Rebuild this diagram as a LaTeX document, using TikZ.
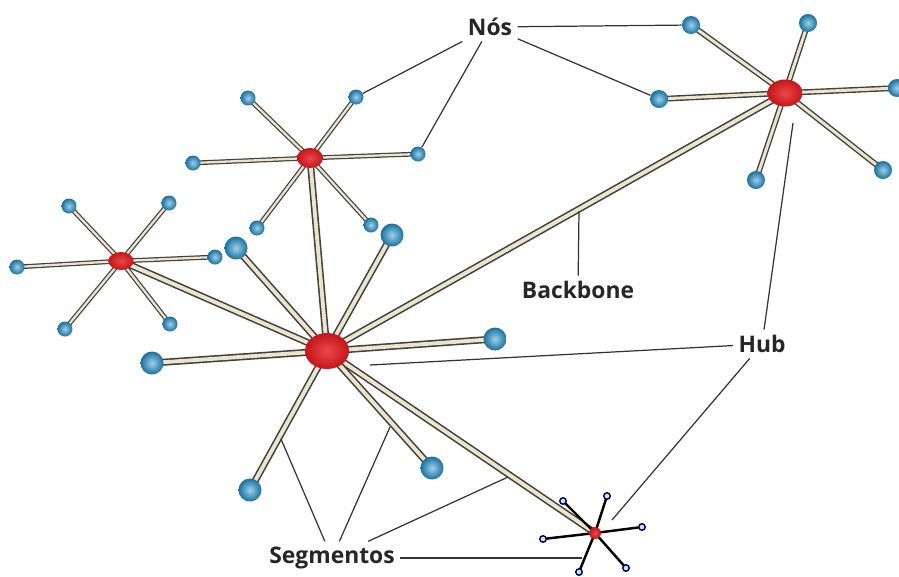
\documentclass[tikz,border=0pt]{standalone}
\usepackage{fontspec}
\setmainfont{Open Sans}
\usepackage{tikz}
\usetikzlibrary{shapes.geometric,backgrounds}

\definecolor{nodeblue}{RGB}{35,150,210}
\definecolor{hubred}{RGB}{230,25,30}
\definecolor{tubefill}{RGB}{236,229,203}

\tikzset{
  hub/.style={ellipse, shading=radial, inner color=hubred!80!white, outer color=hubred!85!black, inner sep=0pt},
  nodo/.style={circle, shading=radial, inner color=nodeblue!45!white, outer color=nodeblue!75!black, inner sep=0pt, minimum size=#1},
  tip/.style={circle, draw=black!70!blue, fill=cyan!25, line width=0.8pt, inner sep=0pt, minimum size=0.13cm},
  tube/.style={draw=black!75, line width=0.9pt, double=tubefill, double distance=2.2pt},
  midtube/.style={draw=black!75, line width=0.8pt, double=tubefill, double distance=1.7pt},
  thintube/.style={draw=black!75, line width=0.7pt, double=tubefill, double distance=1.3pt},
  wire/.style={draw=black, line width=1.4pt},
  leader/.style={draw=black!80, line width=0.7pt},
  lbl/.style={font=\bfseries\fontsize{13}{15}\selectfont, text=black!85, inner sep=3pt}
}

\begin{document}
\begin{tikzpicture}[x=0.02cm, y=-0.02cm]
    \useasboundingbox (0,0) rectangle (899,576);

    % hubs
    \node [hub, minimum width=0.88cm, minimum height=0.72cm] (h0) at (327,351) {};
    \node [hub, minimum width=0.5cm, minimum height=0.36cm] (h1) at (121,261) {};
    \node [hub, minimum width=0.52cm, minimum height=0.4cm] (h2) at (310,158) {};
    \node [hub, minimum width=0.7cm, minimum height=0.54cm] (h3) at (785,93) {};
    \node [hub, minimum width=0.24cm, minimum height=0.24cm] (h4) at (595,533) {};

    % nodes round the big hub
    \node [nodo=0.46cm] (a1) at (236,248) {};
    \node [nodo=0.46cm] (a2) at (392,235) {};
    \node [nodo=0.46cm] (a3) at (152,363) {};
    \node [nodo=0.46cm] (a4) at (495,339) {};
    \node [nodo=0.46cm] (a5) at (250,490) {};
    \node [nodo=0.46cm] (a6) at (432,468) {};

    % left hub
    \node [nodo=0.3cm] (b1) at (69,206) {};
    \node [nodo=0.3cm] (b2) at (169,203) {};
    \node [nodo=0.3cm] (b3) at (17,267) {};
    \node [nodo=0.3cm] (b4) at (215,257) {};
    \node [nodo=0.3cm] (b5) at (65,329) {};
    \node [nodo=0.3cm] (b6) at (170,324) {};

    % top hub
    \node [nodo=0.3cm] (c1) at (248,98) {};
    \node [nodo=0.3cm] (c2) at (356,97) {};
    \node [nodo=0.3cm] (c3) at (193,163) {};
    \node [nodo=0.3cm] (c4) at (418,154) {};
    \node [nodo=0.3cm] (c5) at (257,228) {};
    \node [nodo=0.3cm] (c6) at (371,225) {};

    % right hub
    \node [nodo=0.36cm] (d1) at (691,25) {};
    \node [nodo=0.36cm] (d2) at (808,23) {};
    \node [nodo=0.36cm] (d3) at (659,99) {};
    \node [nodo=0.36cm] (d4) at (897,88) {};
    \node [nodo=0.36cm] (d5) at (756,180) {};
    \node [nodo=0.36cm] (d6) at (883,170) {};

    % small hub
    \node [tip] (e1) at (563,501) {};
    \node [tip] (e2) at (607,496) {};
    \node [tip] (e3) at (642,527) {};
    \node [tip] (e4) at (543,539) {};
    \node [tip] (e5) at (579,572) {};
    \node [tip] (e6) at (626,568) {};

    \begin{scope}[on background layer]
        \draw [tube] (h0.center) -- (h1.center);
        \draw [tube] (h0.center) -- (h2.center);
        \draw [tube] (h0.center) -- (h3.center);
        \draw [tube] (h0.center) -- (h4.center);
        \draw [tube] (h0.center) -- (a1.center);
        \draw [tube] (h0.center) -- (a2.center);
        \draw [tube] (h0.center) -- (a3.center);
        \draw [tube] (h0.center) -- (a4.center);
        \draw [tube] (h0.center) -- (a5.center);
        \draw [tube] (h0.center) -- (a6.center);

        \draw [thintube] (h1.center) -- (b1.center);
        \draw [thintube] (h1.center) -- (b2.center);
        \draw [thintube] (h1.center) -- (b3.center);
        \draw [thintube] (h1.center) -- (b4.center);
        \draw [thintube] (h1.center) -- (b5.center);
        \draw [thintube] (h1.center) -- (b6.center);

        \draw [thintube] (h2.center) -- (c1.center);
        \draw [thintube] (h2.center) -- (c2.center);
        \draw [thintube] (h2.center) -- (c3.center);
        \draw [thintube] (h2.center) -- (c4.center);
        \draw [thintube] (h2.center) -- (c5.center);
        \draw [thintube] (h2.center) -- (c6.center);

        \draw [midtube] (h3.center) -- (d1.center);
        \draw [midtube] (h3.center) -- (d2.center);
        \draw [midtube] (h3.center) -- (d3.center);
        \draw [midtube] (h3.center) -- (d4.center);
        \draw [midtube] (h3.center) -- (d5.center);
        \draw [midtube] (h3.center) -- (d6.center);

        \draw [wire] (h4.center) -- (e1.center);
        \draw [wire] (h4.center) -- (e2.center);
        \draw [wire] (h4.center) -- (e3.center);
        \draw [wire] (h4.center) -- (e4.center);
        \draw [wire] (h4.center) -- (e5.center);
        \draw [wire] (h4.center) -- (e6.center);
    \end{scope}

    % labels
    \node [lbl] (nos) at (490,27) {Nós};
    \node [lbl] (bb) at (578,290) {Backbone};
    \node [lbl] (lhub) at (762,344) {Hub};
    \node [lbl] (seg) at (332,558) {Segmentos};

    \coordinate (bb1) at (579,211);
    \coordinate (hb1) at (793,123);
    \coordinate (hb2) at (370,365);
    \coordinate (hb3) at (612,520);
    \coordinate (sg1) at (281,439);
    \coordinate (sg2) at (390,427);
    \coordinate (sg3) at (508,477);
    \coordinate (sg4) at (582,558);

    \draw [leader] (nos) -- (c2);
    \draw [leader] (nos) -- (c4);
    \draw [leader] (nos) -- (d3);
    \draw [leader] (nos) -- (d1);
    \draw [leader] (bb) -- (bb1);
    \draw [leader] (lhub) -- (hb1);
    \draw [leader] (lhub) -- (hb2);
    \draw [leader] (lhub) -- (hb3);
    \draw [leader] (seg) -- (sg1);
    \draw [leader] (seg) -- (sg2);
    \draw [leader] (seg) -- (sg3);
    \draw [leader] (seg) -- (sg4);
\end{tikzpicture}
\end{document}
